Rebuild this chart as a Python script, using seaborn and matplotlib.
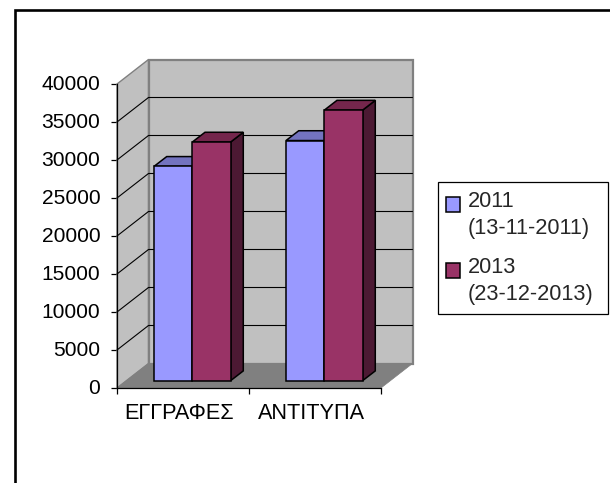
import matplotlib
matplotlib.use("Agg")
import matplotlib.pyplot as plt
import pandas as pd
import seaborn as sns
from matplotlib.legend_handler import HandlerPatch
from matplotlib.lines import Line2D
from matplotlib.patches import Polygon, Rectangle
from matplotlib.transforms import Affine2D, IdentityTransform

categories = ["ΕΓΓΡΑΦΕΣ", "ΑΝΤΙΤΥΠΑ"]
series = ["2011\n(13-11-2011)", "2013\n(23-12-2013)"]
values_2011 = [28200, 31600]
values_2013 = [31400, 35600]
y_ticks = [0, 5000, 10000, 15000, 20000, 25000, 30000, 35000, 40000]

colors = ["#9999FF", "#993366"]
top_colors = ["#7373BF", "#74264C"]
side_colors = ["#4C4C80", "#4C1933"]

W, H = 610, 483
WALL_DX, WALL_DY = 31.5, 24.5  # front plane to back wall, pixels
BAR_DX, BAR_DY = 9.3, 7.3      # front plane to bar front face
DEPTH_DX, DEPTH_DY = 12.7, 9.8 # depth of a bar

sns.set_theme(style="white")
plt.rcParams["font.family"] = ["Liberation Sans", "DejaVu Sans"]

df = pd.DataFrame({
    "category": categories * 2,
    "series": [series[0]] * 2 + [series[1]] * 2,
    "value": values_2011 + values_2013,
})

fig = plt.figure(figsize=(W / 100, H / 100), dpi=100, facecolor="white")
ax = fig.add_axes([117 / W, 1 - 388 / H, 264 / W, 304 / H])

# outer frame of the picture, only its left and top sides fall inside
fig.add_artist(Line2D([14.7 / W, 14.7 / W, 1], [0, 1 - 10.3 / H, 1 - 10.3 / H], transform=fig.transFigure,
                      color="black", linewidth=1.9, solid_joinstyle="miter"))

sns.barplot(data=df, x="category", y="value", hue="series", order=categories, hue_order=series,
            palette=colors, width=0.58, gap=0, saturation=1, edgecolor="black", linewidth=1.1,
            ax=ax, zorder=5)

ax.set_xlim(-0.5, 1.5)
ax.set_ylim(0, 40000)
ax.set_yticks(y_ticks)
ax.set_xlabel("")
ax.set_ylabel("")
ax.patch.set_visible(False)
sns.despine(ax=ax)
for side in ["left", "bottom"]:
    ax.spines[side].set_color("black")
    ax.spines[side].set_linewidth(0.9)
    ax.spines[side].set_zorder(4)

ax.tick_params(axis="y", left=True, length=4.5, width=0.9, color="black", labelsize=15.1, pad=7.5, labelcolor="black")
ax.set_xticks([-0.5, 0.5, 1.5], minor=True)
ax.tick_params(axis="x", which="major", length=0, labelsize=15.6, pad=11, labelcolor="black")
ax.tick_params(axis="x", which="minor", bottom=True, length=4, width=0.9, color="black")
for label in ax.get_xticklabels():
    label.set_transform(label.get_transform() + Affine2D().translate(-4, 0))
for label in ax.get_yticklabels():
    label.set_transform(label.get_transform() + Affine2D().translate(0, 1))

fig.canvas.draw()
to_px = ax.transData.transform
px = IdentityTransform()

# 3D box: side wall, back wall, floor, all taken from the front plane of the axes
x0, y0 = to_px((-0.5, 0))
x1, y1 = to_px((1.5, 40000))
ax.add_patch(Polygon([(x0, y0), (x0 + WALL_DX, y0 + WALL_DY), (x0 + WALL_DX, y1 + WALL_DY), (x0, y1)],
                     transform=px, facecolor="#C0C0C0", edgecolor="#808080", linewidth=1, clip_on=False, zorder=1))
ax.add_patch(Polygon([(x0 + WALL_DX, y0 + WALL_DY), (x1 + WALL_DX, y0 + WALL_DY),
                      (x1 + WALL_DX, y1 + WALL_DY), (x0 + WALL_DX, y1 + WALL_DY)],
                     transform=px, facecolor="#C0C0C0", edgecolor="#808080", linewidth=1.6, clip_on=False, zorder=1))
for v in y_ticks[1:-1]:
    _, yv = to_px((0, v))
    ax.add_line(Line2D([x0, x0 + WALL_DX, x1 + WALL_DX], [yv, yv + WALL_DY, yv + WALL_DY],
                       transform=px, color="black", linewidth=0.8, clip_on=False, zorder=2))
ax.add_patch(Polygon([(x0, y0), (x0 + WALL_DX, y0 + WALL_DY), (x1 + WALL_DX, y0 + WALL_DY), (x1, y0)],
                     transform=px, facecolor="#808080", edgecolor="#808080", linewidth=0.5, clip_on=False, zorder=3))

# bars: move fronts into the box and add top and side faces
shift = Affine2D().translate(BAR_DX, BAR_DY)
for i, container in enumerate(ax.containers):
    for bar in container:
        bar.set_transform(ax.transData + shift)
        bar.set_clip_on(False)
        left, bottom = to_px((bar.get_x(), 0))
        right, top = to_px((bar.get_x() + bar.get_width(), bar.get_height()))
        left, right = left + BAR_DX, right + BAR_DX
        bottom, top = bottom + BAR_DY, top + BAR_DY
        ax.add_patch(Polygon([(right, bottom), (right + DEPTH_DX, bottom + DEPTH_DY),
                              (right + DEPTH_DX, top + DEPTH_DY), (right, top)],
                             transform=px, facecolor=side_colors[i], edgecolor="black", linewidth=1.1,
                             clip_on=False, zorder=4.2 + i * 0.1))
        ax.add_patch(Polygon([(left, top), (left + DEPTH_DX, top + DEPTH_DY),
                              (right + DEPTH_DX, top + DEPTH_DY), (right, top)],
                             transform=px, facecolor=top_colors[i], edgecolor="black", linewidth=1.1,
                             clip_on=False, zorder=4.2 + i * 0.1))


def raised_square(legend, orig_handle, xdescent, ydescent, width, height, fontsize):
    return Rectangle((-xdescent, -ydescent + 7.8), width, height)


# legend box is drawn apart, the entries sit inside it with their own spacing
fig.add_artist(Rectangle((438 / W, 1 - 314.3 / H), 170 / W, 132 / H, transform=fig.transFigure,
                         facecolor="white", edgecolor="black", linewidth=0.9, zorder=4))
handles, labels = ax.get_legend_handles_labels()
ax.get_legend().remove()
legend = fig.legend(handles, labels, loc="upper left",
                    bbox_to_anchor=(446 / W, 1 - 191.2 / H), borderaxespad=0,
                    handler_map={h: HandlerPatch(patch_func=raised_square) for h in handles},
                    fontsize=15.7, frameon=False,
                    handlelength=0.64, handleheight=0.64, handletextpad=0.37,
                    labelspacing=0.85, borderpad=0)
legend.set_zorder(5)
for text in legend.get_texts():
    text.set_linespacing(1.35)

fig.savefig("out.png", dpi=100)
